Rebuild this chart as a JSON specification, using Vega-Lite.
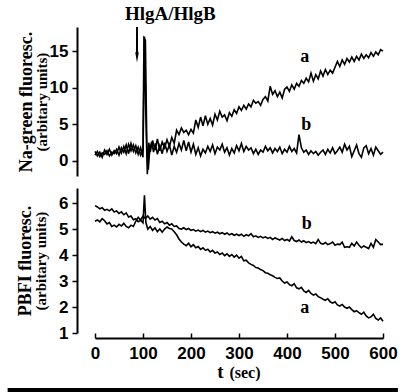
{
"$schema": "https://vega.github.io/schema/vega-lite/v6.json",
"background": "white",
"padding": {"left": 5, "top": 5, "right": 0, "bottom": 0},
"config": {"view": {"stroke": null}, "font": "Liberation Serif"},
"datasets": {
"na_a": [{"t":0,"v":0.8},{"t":5,"v":1.3},{"t":10,"v":0.6},{"t":15,"v":1.1},{"t":20,"v":0.9},{"t":25,"v":1.4},{"t":30,"v":0.7},{"t":35,"v":1.2},{"t":40,"v":1.0},{"t":45,"v":1.6},{"t":50,"v":0.8},{"t":55,"v":1.8},{"t":60,"v":1.2},{"t":65,"v":2.2},{"t":70,"v":1.0},{"t":75,"v":2.4},{"t":80,"v":1.3},{"t":85,"v":2.1},{"t":90,"v":0.9},{"t":95,"v":1.8},{"t":100,"v":0.5},{"t":103,"v":17.0},{"t":106,"v":6.0},{"t":109,"v":-1.8},{"t":112,"v":2.5},{"t":115,"v":1.2},{"t":120,"v":2.8},{"t":125,"v":1.5},{"t":130,"v":3.0},{"t":135,"v":1.4},{"t":140,"v":2.6},{"t":145,"v":1.8},{"t":150,"v":2.9},{"t":155,"v":2.0},{"t":160,"v":3.2},{"t":165,"v":2.4},{"t":170,"v":4.2},{"t":175,"v":3.6},{"t":180,"v":4.5},{"t":185,"v":3.9},{"t":190,"v":4.2},{"t":195,"v":3.6},{"t":200,"v":4.3},{"t":205,"v":3.8},{"t":210,"v":5.6},{"t":215,"v":4.6},{"t":220,"v":6.0},{"t":225,"v":4.8},{"t":230,"v":6.2},{"t":235,"v":5.0},{"t":240,"v":5.8},{"t":245,"v":4.9},{"t":250,"v":6.4},{"t":255,"v":5.6},{"t":260,"v":6.8},{"t":265,"v":6.0},{"t":270,"v":6.3},{"t":275,"v":5.5},{"t":280,"v":6.6},{"t":285,"v":6.1},{"t":290,"v":7.0},{"t":295,"v":6.5},{"t":300,"v":7.4},{"t":305,"v":6.9},{"t":310,"v":7.6},{"t":315,"v":7.1},{"t":320,"v":7.8},{"t":325,"v":7.4},{"t":330,"v":8.3},{"t":335,"v":7.9},{"t":340,"v":8.1},{"t":345,"v":7.6},{"t":350,"v":8.4},{"t":355,"v":8.8},{"t":360,"v":8.2},{"t":365,"v":10.2},{"t":370,"v":9.1},{"t":375,"v":9.6},{"t":380,"v":8.8},{"t":385,"v":9.4},{"t":390,"v":8.6},{"t":395,"v":9.8},{"t":400,"v":10.1},{"t":405,"v":9.5},{"t":410,"v":10.4},{"t":415,"v":9.8},{"t":420,"v":10.6},{"t":425,"v":10.2},{"t":430,"v":11.0},{"t":435,"v":10.6},{"t":440,"v":11.3},{"t":445,"v":10.8},{"t":450,"v":12.0},{"t":455,"v":10.9},{"t":460,"v":11.8},{"t":465,"v":11.2},{"t":470,"v":12.3},{"t":475,"v":11.6},{"t":480,"v":12.5},{"t":485,"v":11.8},{"t":490,"v":12.4},{"t":495,"v":12.0},{"t":500,"v":12.8},{"t":505,"v":13.6},{"t":510,"v":12.9},{"t":515,"v":13.8},{"t":520,"v":13.2},{"t":525,"v":14.0},{"t":530,"v":13.5},{"t":535,"v":14.2},{"t":540,"v":13.6},{"t":545,"v":14.3},{"t":550,"v":13.8},{"t":555,"v":14.6},{"t":560,"v":14.0},{"t":565,"v":14.5},{"t":570,"v":14.1},{"t":575,"v":14.8},{"t":580,"v":14.3},{"t":585,"v":14.9},{"t":590,"v":14.5},{"t":595,"v":15.2},{"t":600,"v":15.0}],
"na_b": [{"t":0,"v":1.3},{"t":5,"v":0.7},{"t":10,"v":1.2},{"t":15,"v":0.5},{"t":20,"v":1.5},{"t":25,"v":0.9},{"t":30,"v":1.6},{"t":35,"v":0.8},{"t":40,"v":1.4},{"t":45,"v":1.0},{"t":50,"v":1.9},{"t":55,"v":1.1},{"t":60,"v":2.0},{"t":65,"v":1.0},{"t":70,"v":2.3},{"t":75,"v":1.4},{"t":80,"v":2.2},{"t":85,"v":1.1},{"t":90,"v":1.9},{"t":95,"v":0.8},{"t":100,"v":1.6},{"t":102,"v":16.8},{"t":105,"v":16.5},{"t":108,"v":2.0},{"t":111,"v":-1.2},{"t":114,"v":1.5},{"t":118,"v":2.6},{"t":122,"v":1.2},{"t":126,"v":2.4},{"t":130,"v":0.9},{"t":135,"v":2.1},{"t":140,"v":1.0},{"t":145,"v":2.5},{"t":150,"v":1.3},{"t":155,"v":2.2},{"t":160,"v":0.8},{"t":165,"v":2.0},{"t":170,"v":1.2},{"t":175,"v":2.4},{"t":180,"v":1.5},{"t":185,"v":2.8},{"t":190,"v":1.4},{"t":195,"v":2.6},{"t":200,"v":1.2},{"t":205,"v":2.3},{"t":210,"v":0.9},{"t":215,"v":1.8},{"t":220,"v":0.7},{"t":225,"v":1.6},{"t":230,"v":1.1},{"t":235,"v":2.0},{"t":240,"v":1.3},{"t":245,"v":2.2},{"t":250,"v":1.0},{"t":255,"v":1.9},{"t":260,"v":1.5},{"t":265,"v":2.3},{"t":270,"v":1.2},{"t":275,"v":1.8},{"t":280,"v":0.8},{"t":285,"v":1.7},{"t":290,"v":1.1},{"t":295,"v":2.1},{"t":300,"v":1.4},{"t":305,"v":2.4},{"t":310,"v":1.3},{"t":315,"v":2.0},{"t":320,"v":1.5},{"t":325,"v":1.8},{"t":330,"v":1.0},{"t":335,"v":1.6},{"t":340,"v":0.9},{"t":345,"v":1.5},{"t":350,"v":1.2},{"t":355,"v":2.0},{"t":360,"v":1.4},{"t":365,"v":1.8},{"t":370,"v":1.1},{"t":375,"v":1.7},{"t":380,"v":1.3},{"t":385,"v":1.9},{"t":390,"v":1.0},{"t":395,"v":1.6},{"t":400,"v":1.2},{"t":405,"v":2.0},{"t":410,"v":1.3},{"t":415,"v":1.7},{"t":420,"v":1.1},{"t":425,"v":3.6},{"t":430,"v":1.8},{"t":435,"v":1.2},{"t":440,"v":1.5},{"t":445,"v":0.9},{"t":450,"v":1.4},{"t":455,"v":1.0},{"t":460,"v":1.3},{"t":465,"v":0.8},{"t":470,"v":1.2},{"t":475,"v":1.5},{"t":480,"v":0.9},{"t":485,"v":1.6},{"t":490,"v":1.1},{"t":495,"v":1.8},{"t":500,"v":1.0},{"t":505,"v":1.4},{"t":510,"v":1.9},{"t":515,"v":1.2},{"t":520,"v":2.3},{"t":525,"v":1.5},{"t":530,"v":2.0},{"t":535,"v":0.6},{"t":540,"v":1.4},{"t":545,"v":2.2},{"t":550,"v":1.0},{"t":555,"v":0.5},{"t":560,"v":1.8},{"t":565,"v":2.1},{"t":570,"v":1.0},{"t":575,"v":1.7},{"t":580,"v":0.8},{"t":585,"v":1.9},{"t":590,"v":1.4},{"t":595,"v":0.9},{"t":600,"v":1.2}],
"pb_a": [{"t":0,"v":5.9},{"t":5,"v":5.85},{"t":10,"v":5.78},{"t":15,"v":5.82},{"t":20,"v":5.72},{"t":25,"v":5.76},{"t":30,"v":5.7},{"t":35,"v":5.78},{"t":40,"v":5.66},{"t":45,"v":5.7},{"t":50,"v":5.6},{"t":55,"v":5.66},{"t":60,"v":5.55},{"t":65,"v":5.62},{"t":70,"v":5.46},{"t":75,"v":5.5},{"t":80,"v":5.36},{"t":85,"v":5.4},{"t":90,"v":5.28},{"t":95,"v":5.34},{"t":100,"v":5.24},{"t":103,"v":6.3},{"t":106,"v":5.25},{"t":110,"v":5.0},{"t":115,"v":5.1},{"t":120,"v":4.95},{"t":125,"v":5.05},{"t":130,"v":4.9},{"t":135,"v":5.0},{"t":140,"v":4.88},{"t":145,"v":5.0},{"t":150,"v":5.08},{"t":155,"v":5.02},{"t":160,"v":5.0},{"t":165,"v":4.9},{"t":170,"v":4.78},{"t":175,"v":4.62},{"t":180,"v":4.5},{"t":185,"v":4.42},{"t":190,"v":4.36},{"t":195,"v":4.45},{"t":200,"v":4.32},{"t":205,"v":4.4},{"t":210,"v":4.28},{"t":215,"v":4.33},{"t":220,"v":4.22},{"t":225,"v":4.28},{"t":230,"v":4.18},{"t":235,"v":4.22},{"t":240,"v":4.12},{"t":245,"v":4.18},{"t":250,"v":4.08},{"t":255,"v":4.12},{"t":260,"v":4.02},{"t":265,"v":4.08},{"t":270,"v":3.98},{"t":275,"v":4.05},{"t":280,"v":3.95},{"t":285,"v":4.02},{"t":290,"v":3.92},{"t":295,"v":4.0},{"t":300,"v":3.88},{"t":305,"v":3.95},{"t":310,"v":3.78},{"t":315,"v":3.8},{"t":320,"v":3.7},{"t":325,"v":3.64},{"t":330,"v":3.6},{"t":335,"v":3.52},{"t":340,"v":3.5},{"t":345,"v":3.44},{"t":350,"v":3.4},{"t":355,"v":3.32},{"t":360,"v":3.3},{"t":365,"v":3.24},{"t":370,"v":3.2},{"t":375,"v":3.14},{"t":380,"v":3.1},{"t":385,"v":3.12},{"t":390,"v":3.0},{"t":395,"v":2.92},{"t":400,"v":2.96},{"t":405,"v":2.86},{"t":410,"v":2.82},{"t":415,"v":2.9},{"t":420,"v":2.74},{"t":425,"v":2.7},{"t":430,"v":2.76},{"t":435,"v":2.62},{"t":440,"v":2.56},{"t":445,"v":2.64},{"t":450,"v":2.52},{"t":455,"v":2.46},{"t":460,"v":2.5},{"t":465,"v":2.4},{"t":470,"v":2.36},{"t":475,"v":2.3},{"t":480,"v":2.26},{"t":485,"v":2.32},{"t":490,"v":2.2},{"t":495,"v":2.15},{"t":500,"v":2.2},{"t":505,"v":2.08},{"t":510,"v":2.04},{"t":515,"v":2.1},{"t":520,"v":2.0},{"t":525,"v":1.95},{"t":530,"v":2.0},{"t":535,"v":1.9},{"t":540,"v":1.82},{"t":545,"v":1.86},{"t":550,"v":1.78},{"t":555,"v":1.72},{"t":560,"v":1.8},{"t":565,"v":1.66},{"t":570,"v":1.58},{"t":575,"v":1.62},{"t":580,"v":1.72},{"t":585,"v":1.56},{"t":590,"v":1.5},{"t":595,"v":1.58},{"t":600,"v":1.45}],
"pb_b": [{"t":0,"v":5.3},{"t":5,"v":5.35},{"t":10,"v":5.28},{"t":15,"v":5.4},{"t":20,"v":5.32},{"t":25,"v":5.2},{"t":30,"v":5.25},{"t":35,"v":5.1},{"t":40,"v":5.15},{"t":45,"v":5.08},{"t":50,"v":5.18},{"t":55,"v":5.12},{"t":60,"v":5.22},{"t":65,"v":5.1},{"t":70,"v":5.05},{"t":75,"v":5.15},{"t":80,"v":5.1},{"t":85,"v":5.3},{"t":90,"v":5.45},{"t":95,"v":5.35},{"t":100,"v":5.5},{"t":105,"v":5.4},{"t":110,"v":5.5},{"t":115,"v":5.38},{"t":120,"v":5.45},{"t":125,"v":5.35},{"t":130,"v":5.4},{"t":135,"v":5.25},{"t":140,"v":5.3},{"t":145,"v":5.2},{"t":150,"v":5.25},{"t":155,"v":5.15},{"t":160,"v":5.2},{"t":165,"v":5.1},{"t":170,"v":5.12},{"t":175,"v":5.02},{"t":180,"v":5.0},{"t":185,"v":5.05},{"t":190,"v":4.98},{"t":195,"v":5.02},{"t":200,"v":4.95},{"t":205,"v":4.98},{"t":210,"v":4.92},{"t":215,"v":4.96},{"t":220,"v":4.9},{"t":225,"v":4.95},{"t":230,"v":4.88},{"t":235,"v":4.92},{"t":240,"v":4.86},{"t":245,"v":4.9},{"t":250,"v":4.84},{"t":255,"v":4.88},{"t":260,"v":4.82},{"t":265,"v":4.86},{"t":270,"v":4.8},{"t":275,"v":4.85},{"t":280,"v":4.78},{"t":285,"v":4.82},{"t":290,"v":4.76},{"t":295,"v":4.8},{"t":300,"v":4.75},{"t":305,"v":4.8},{"t":310,"v":4.72},{"t":315,"v":4.78},{"t":320,"v":4.74},{"t":325,"v":4.82},{"t":330,"v":4.7},{"t":335,"v":4.74},{"t":340,"v":4.68},{"t":345,"v":4.72},{"t":350,"v":4.66},{"t":355,"v":4.7},{"t":360,"v":4.64},{"t":365,"v":4.68},{"t":370,"v":4.6},{"t":375,"v":4.66},{"t":380,"v":4.62},{"t":385,"v":4.58},{"t":390,"v":4.64},{"t":395,"v":4.56},{"t":400,"v":4.6},{"t":405,"v":4.54},{"t":410,"v":4.7},{"t":415,"v":4.56},{"t":420,"v":4.52},{"t":425,"v":4.58},{"t":430,"v":4.5},{"t":435,"v":4.55},{"t":440,"v":4.48},{"t":445,"v":4.52},{"t":450,"v":4.46},{"t":455,"v":4.5},{"t":460,"v":4.44},{"t":465,"v":4.6},{"t":470,"v":4.45},{"t":475,"v":4.42},{"t":480,"v":4.48},{"t":485,"v":4.4},{"t":490,"v":4.44},{"t":495,"v":4.5},{"t":500,"v":4.38},{"t":505,"v":4.42},{"t":510,"v":4.4},{"t":515,"v":4.5},{"t":520,"v":4.3},{"t":525,"v":4.32},{"t":530,"v":4.3},{"t":535,"v":4.45},{"t":540,"v":4.35},{"t":545,"v":4.5},{"t":550,"v":4.38},{"t":555,"v":4.28},{"t":560,"v":4.35},{"t":565,"v":4.3},{"t":570,"v":4.25},{"t":575,"v":4.45},{"t":580,"v":4.3},{"t":585,"v":4.6},{"t":590,"v":4.5},{"t":595,"v":4.4},{"t":600,"v":4.42}],
"na_lab": [{"t":437,"v":14.2,"s":"a"},{"t":440,"v":4.9,"s":"b"}],
"pb_lab": [{"t":437,"v":1.96,"s":"a"},{"t":441,"v":5.2,"s":"b"}],
"event": [{"t":87.5,"label":"HlgA/HlgB"}]
},
"spacing": 10,
"vconcat": [
{
"width": 288, "height": 149,
"title": {"text": "HlgA/HlgB", "anchor": "start", "frame": "group", "dx": 30, "offset": 2, "font": "Liberation Serif", "fontSize": 19, "fontWeight": "bold", "color": "black"},
"resolve": {"axis": {"y": "independent"}},
"layer": [
{"data": {"name": "na_a"}, "mark": {"type": "line", "color": "black", "strokeWidth": 1.6, "clip": false},
 "encoding": {
  "x": {"field": "t", "type": "quantitative", "scale": {"domain": [0, 600], "nice": false}, "axis": null},
  "y": {"field": "v", "type": "quantitative", "scale": {"domain": [-2.05, 18.3], "nice": false, "zero": false},
   "axis": {"orient": "left", "values": [0, 5, 10, 15], "offset": 18, "grid": false, "domainColor": "black", "domainWidth": 2, "tickColor": "black", "tickWidth": 1.5, "tickSize": 5, "labelFont": "Liberation Sans", "labelFontSize": 17, "labelFontWeight": "bold", "labelColor": "black", "labelPadding": 4, "labelFlush": false, "labelOverlap": false, "title": "(arbitary units)", "titleFont": "Liberation Serif", "titleFontSize": 15, "titleFontWeight": "bold", "titleColor": "black", "titleX": -36, "titleBaseline": "middle"}}}},
{"data": {"name": "na_b"}, "mark": {"type": "line", "color": "black", "strokeWidth": 1.6, "clip": false},
 "encoding": {
  "x": {"field": "t", "type": "quantitative", "axis": null},
  "y": {"field": "v", "type": "quantitative",
   "axis": {"orient": "left", "offset": 18, "grid": false, "domain": false, "ticks": false, "labels": false, "title": "Na-green fluoresc.", "titleFont": "Liberation Serif", "titleFontSize": 18, "titleFontWeight": "bold", "titleColor": "black", "titleX": -51, "titleBaseline": "middle"}}}},
{"data": {"name": "na_lab"}, "mark": {"type": "text", "font": "Liberation Serif", "fontSize": 18, "fontWeight": "bold", "color": "black", "align": "center", "baseline": "middle"},
 "encoding": {"x": {"field": "t", "type": "quantitative", "axis": null}, "y": {"field": "v", "type": "quantitative", "axis": null}, "text": {"field": "s"}}},
{"data": {"name": "event"}, "mark": {"type": "rule", "color": "black", "strokeWidth": 2},
 "encoding": {"x": {"field": "t", "type": "quantitative", "axis": null}, "y": {"datum": 18.3, "axis": null}, "y2": {"datum": 14.5}}},
{"data": {"name": "event"}, "mark": {"type": "point", "shape": "M-0.35,-1L0,1L0.35,-1L0,-0.45Z", "filled": true, "color": "black", "opacity": 1, "size": 121},
 "encoding": {"x": {"field": "t", "type": "quantitative", "axis": null}, "y": {"datum": 14.2, "axis": null}}}
]
},
{
"width": 288, "height": 145,
"resolve": {"axis": {"y": "independent", "x": "independent"}},
"layer": [
{"data": {"name": "pb_a"}, "mark": {"type": "line", "color": "black", "strokeWidth": 1.6, "clip": false},
 "encoding": {
  "x": {"field": "t", "type": "quantitative", "scale": {"domain": [0, 600], "nice": false},
   "axis": {"orient": "bottom", "values": [0, 100, 200, 300, 400, 500, 600], "offset": 5, "grid": false, "domainColor": "black", "domainWidth": 2, "tickColor": "black", "tickWidth": 1.5, "tickSize": -5, "labelFont": "Liberation Sans", "labelFontSize": 17, "labelFontWeight": "bold", "labelColor": "black", "labelPadding": 12, "labelFlush": false, "labelOverlap": false, "title": "t", "titleFont": "Liberation Serif", "titleFontSize": 19, "titleFontWeight": "bold", "titleColor": "black", "titleX": 125, "titleY": 39, "titleBaseline": "alphabetic", "titleAlign": "center"}},
  "y": {"field": "v", "type": "quantitative", "scale": {"domain": [1, 6.58], "nice": false, "zero": false},
   "axis": {"orient": "left", "values": [1, 2, 3, 4, 5, 6], "offset": 18, "grid": false, "domainColor": "black", "domainWidth": 2, "tickColor": "black", "tickWidth": 1.5, "tickSize": 5, "labelFont": "Liberation Sans", "labelFontSize": 17, "labelFontWeight": "bold", "labelColor": "black", "labelPadding": 4, "labelFlush": false, "labelOverlap": false, "title": "(arbitary units)", "titleFont": "Liberation Serif", "titleFontSize": 15, "titleFontWeight": "bold", "titleColor": "black", "titleX": -36.5, "titleBaseline": "middle"}}}},
{"data": {"name": "pb_b"}, "mark": {"type": "line", "color": "black", "strokeWidth": 1.6, "clip": false},
 "encoding": {
  "x": {"field": "t", "type": "quantitative",
   "axis": {"orient": "bottom", "offset": 5, "grid": false, "domain": false, "ticks": false, "labels": false, "title": "(sec)", "titleFont": "Liberation Serif", "titleFontSize": 16, "titleFontWeight": "bold", "titleColor": "black", "titleX": 149.5, "titleY": 39, "titleBaseline": "alphabetic", "titleAlign": "center"}},
  "y": {"field": "v", "type": "quantitative",
   "axis": {"orient": "left", "offset": 18, "grid": false, "domain": false, "ticks": false, "labels": false, "title": "PBFI fluoresc.", "titleFont": "Liberation Serif", "titleFontSize": 18, "titleFontWeight": "bold", "titleColor": "black", "titleX": -52, "titleBaseline": "middle"}}}},
{"data": {"name": "pb_lab"}, "mark": {"type": "text", "font": "Liberation Serif", "fontSize": 18, "fontWeight": "bold", "color": "black", "align": "center", "baseline": "middle"},
 "encoding": {"x": {"field": "t", "type": "quantitative", "axis": null}, "y": {"field": "v", "type": "quantitative", "axis": null}, "text": {"field": "s"}}},
{"data": {"values": [{}]}, "mark": {"type": "rule", "color": "black", "strokeWidth": 5, "clip": false},
 "encoding": {"x": {"datum": -182, "axis": null}, "x2": {"datum": 631}, "y": {"datum": -1.21, "axis": null}}}
]
}
]
}
